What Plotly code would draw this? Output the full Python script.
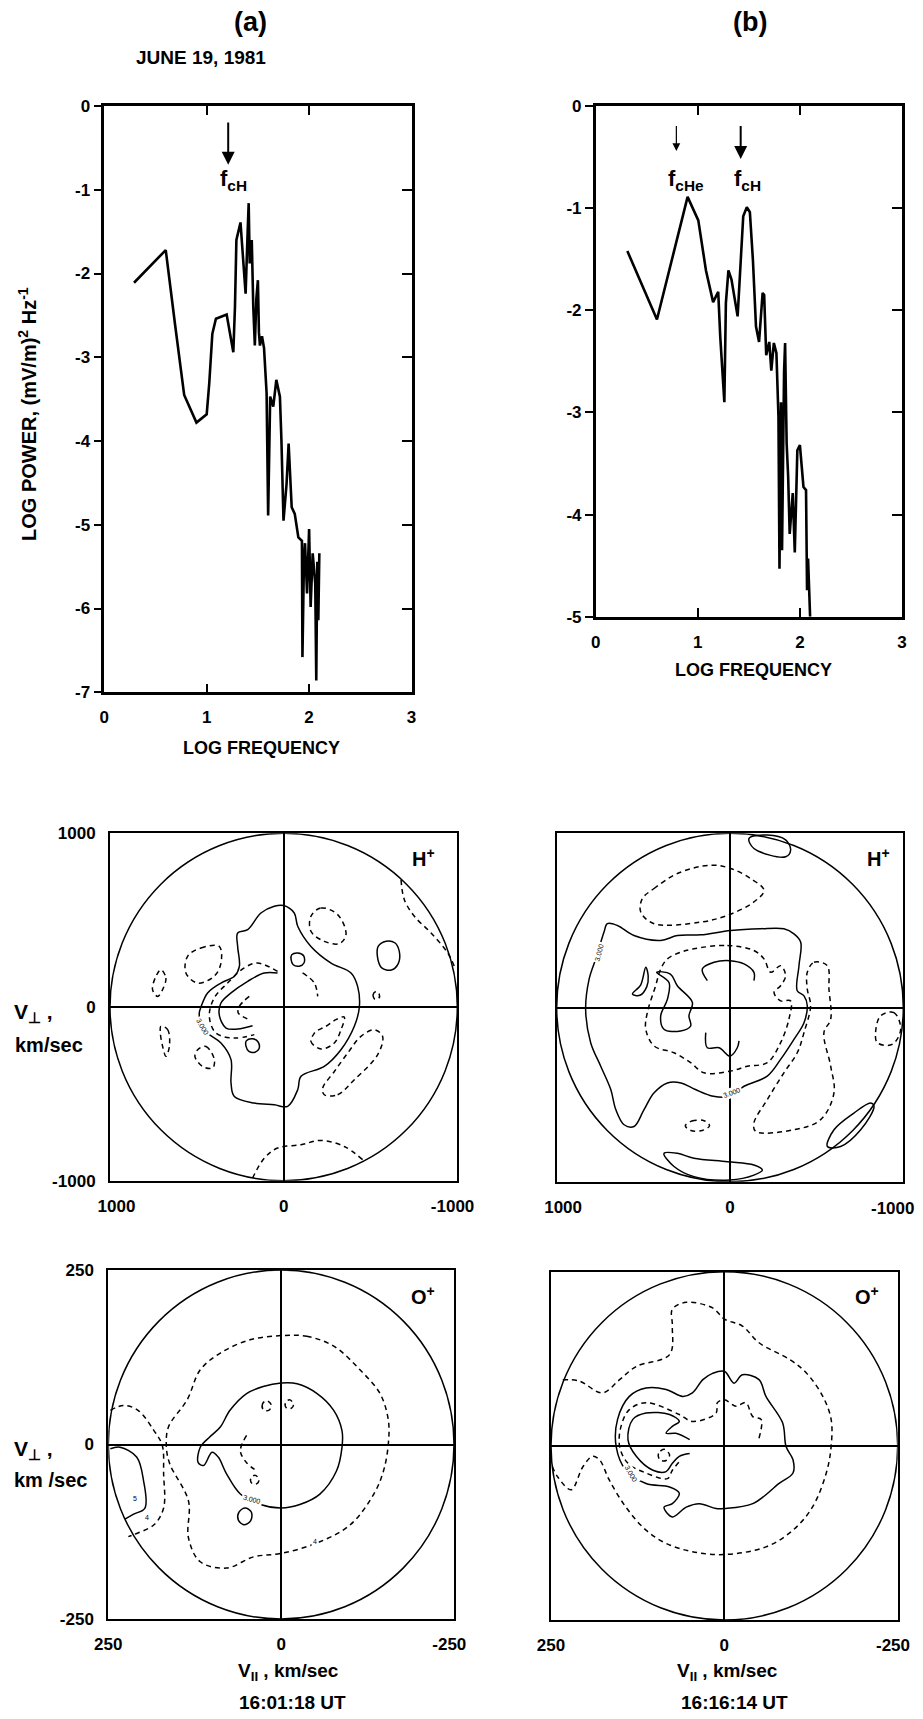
import plotly.graph_objects as go

W, H = 923, 1719
FONT = "Liberation Sans"

# ---------------- spectra data (log10 f [Hz], log10 power) ----------------
spec_a_logf = [0.29, 0.60, 0.69, 0.78, 0.90, 1.00, 1.025, 1.055, 1.09, 1.195, 1.26, 1.276, 1.29,
               1.33, 1.36, 1.38, 1.40, 1.41, 1.42, 1.44, 1.455, 1.47, 1.485, 1.50, 1.51, 1.52,
               1.54, 1.56, 1.585, 1.60, 1.62, 1.65, 1.68, 1.715, 1.73, 1.75, 1.78, 1.80, 1.83,
               1.86, 1.895, 1.93, 1.935, 1.95, 1.96, 1.98, 2.00, 2.015, 2.035, 2.06, 2.07, 2.08,
               2.09, 2.10]
spec_a_logp = [-2.11, -1.72, -2.60, -3.45, -3.78, -3.68, -3.31, -2.72, -2.54, -2.49, -2.94, -2.40,
               -1.60, -1.39, -1.90, -2.24, -1.50, -1.16, -1.88, -1.60, -2.40, -2.86, -2.30, -2.08,
               -2.70, -2.86, -2.75, -2.89, -3.43, -4.89, -3.47, -3.59, -3.27, -3.47, -4.00, -4.95,
               -4.51, -4.03, -4.79, -4.87, -5.15, -5.19, -6.58, -5.40, -5.22, -5.82, -5.05, -5.98,
               -5.34, -5.70, -6.86, -5.44, -6.14, -5.34]

spec_b_logf = [0.31, 0.60, 0.90, 1.005, 1.08, 1.15, 1.20, 1.22, 1.26, 1.275, 1.30, 1.33, 1.39,
               1.445, 1.48, 1.51, 1.54, 1.57, 1.60, 1.635, 1.65, 1.67, 1.70, 1.72, 1.745, 1.77,
               1.79, 1.80, 1.815, 1.825, 1.845, 1.855, 1.87, 1.885, 1.90, 1.93, 1.95, 1.975,
               2.00, 2.035, 2.06, 2.07, 2.08, 2.10]
spec_b_logp = [-1.42, -2.09, -0.89, -1.12, -1.61, -1.92, -1.82, -2.26, -2.90, -1.93, -1.61, -1.70,
               -2.06, -1.08, -0.99, -1.04, -1.51, -2.16, -2.31, -1.83, -1.85, -2.44, -2.31, -2.59,
               -2.32, -2.42, -3.04, -4.53, -2.90, -4.35, -2.60, -2.32, -3.30, -3.63, -4.19, -3.79,
               -4.37, -3.37, -3.32, -3.73, -3.76, -4.74, -4.43, -5.00]

fcH_a = 1.21
fcH_b = 1.42
fcHe_b = 0.79

spec_xticks = [0, 1, 2, 3]
spec_a_yticks = [0, -1, -2, -3, -4, -5, -6, -7]
spec_b_yticks = [0, -1, -2, -3, -4, -5]
h_ticks = [1000, 0, -1000]
o_ticks = [250, 0, -250]
ha_xticklabels = ["\u2007\u20091000", "0", "-1000\u2007"]
hb_xticklabels = ["\u2007\u20091000", "0", ""]
hb_last_label = "-1000"
o_xticklabels = ["250", "0", "-250\u2007"]

# ---------------- contour outlines (V_par, V_perp) in km/s ----------------
# H+ , 16:01:18 UT
HA_SOLID_MAIN = [(0, 584), (-61, 541), (-81, 465), (-157, 349), (-273, 253), (-388, 196), (-426, 119),
                 (-436, 0), (-407, -111), (-330, -246), (-234, -342), (-100, -399), (-81, -476),
                 (-23, -572), (54, -563), (169, -553), (284, -515), (303, -438), (303, -303),
                 (361, -207), (438, -150), (476, -92), (486, -35), (476, 0), (438, 81), (361, 138),
                 (284, 177), (255, 234), (265, 349), (265, 426), (207, 445), (131, 541), (54, 580)]
HA_SOLID_HOOK = [(35, 196), (111, 196), (207, 148), (303, 81), (361, 23), (371, -44), (332, -121),
                 (265, -127), (179, -108)]
HA_DASH_HOOK = [(35, 205), (150, 253), (227, 225), (323, 138), (400, 52), (428, -54), (390, -150),
                (284, -179), (169, -159)]
HA_DASH_INNER = [(198, 61), (255, 4), (261, -35), (198, -73)]
HA_DASH_SEG = [(-109, 196), (-177, 138), (-196, 61)]
HA_DASH_B1 = [(-177, -150), (-157, -198), (-215, -242), (-292, -207), (-330, -131), (-349, -58),
              (-301, -73), (-244, -111), (-186, -140)]
HA_DASH_B2 = [(-234, -505), (-311, -505), (-407, -419), (-541, -275), (-570, -169), (-522, -131),
              (-445, -169), (-369, -265), (-292, -371), (-225, -467)]
HA_DASH_B3 = [(-157, 522), (-215, 570), (-311, 532), (-359, 417), (-321, 365), (-234, 378), (-157, 436)]
HA_SOLID_C1 = [(-81, 311), (-46, 300), (-43, 273), (-55, 243), (-90, 235), (-118, 255), (-115, 295)]
HA_SOLID_C2 = [(-590, 379), (-545, 350), (-540, 290), (-565, 225), (-620, 213), (-660, 250),
               (-666, 320), (-640, 370)]
HA_DASH_C3 = [(-532, 90), (-515, 70), (-525, 45), (-548, 50), (-550, 75)]
HA_DASH_EDGE = [(-676, 733), (-695, 618), (-753, 522), (-849, 426), (-945, 311), (-983, 234)]
HA_DASH_L1 = [(553, 292), (476, 340), (371, 349), (361, 253), (400, 177), (495, 138), (563, 196)]
HA_DASH_L2 = [(707, 215), (678, 167), (697, 100), (726, 61), (755, 100), (735, 177)]
HA_DASH_L3 = [(707, -111), (668, -130), (658, -227), (678, -284), (697, -227), (710, -150)]
HA_DASH_L4 = [(495, -246), (447, -227), (399, -303), (409, -351), (467, -342), (511, -284)]
HA_SOLID_C4 = [(179, -183), (215, -195), (217, -225), (200, -255), (165, -260), (142, -240), (148, -200)]
HA_DASH_BOTTOM = [(179, -985), (111, -870), (35, -812), (-100, -793), (-215, -768), (-349, -803),
                  (-455, -879)]

# H+ , 16:16:14 UT
HB_SOLID_MAIN = [(708, 481), (650, 471), (554, 413), (400, 385), (304, 413), (169, 417), (-4, 442),
                 (-177, 452), (-311, 452), (-369, 423), (-408, 375), (-398, 240), (-388, 96),
                 (-427, 67), (-446, 10), (-427, -87), (-369, -183), (-292, -298), (-215, -394),
                 (-81, -452), (0, -510), (96, -510), (200, -471), (283, -433), (361, -433),
                 (438, -490), (496, -586), (554, -683), (611, -673), (659, -586), (688, -471),
                 (746, -337), (804, -202), (833, -10), (813, 163), (775, 279), (727, 433)]
HB_SOLID_DROP = [(563, 77), (515, 130), (486, 231), (472, 180), (480, 120), (520, 70)]
HB_SOLID_BLOB = [(423, 202), (344, 192), (304, 125), (217, 29), (237, -48), (227, -106), (285, -135),
                 (381, -125), (400, -48), (361, 48), (352, 144)]
HB_SOLID_ARC_TOP = [(131, 154), (160, 221), (92, 260), (0, 269), (-81, 250), (-138, 202), (-138, 154)]
HB_SOLID_ARC_BOT = [(140, -144), (131, -231), (63, -231), (0, -279), (-42, -231), (-52, -192)]
HB_DASH_RING = [(208, 337), (15, 356), (-138, 327), (-196, 279), (-235, 202), (-292, 240), (-321, 183),
                (-292, 125), (-254, 87), (-292, 38), (-350, 38), (-340, -67), (-292, -202),
                (-215, -317), (-100, -337), (-4, -365), (150, -375), (227, -317), (323, -260),
                (438, -221), (486, -125), (477, -29), (429, 125), (400, 221), (361, 279), (285, 317)]
HB_DASH_TOP = [(506, 625), (438, 683), (304, 769), (111, 817), (-4, 798), (-119, 740), (-196, 673),
               (-138, 606), (15, 529), (169, 490), (438, 481), (515, 548)]
HB_SOLID_TR = [(-110, 971), (-138, 913), (-321, 865), (-350, 904), (-321, 962), (-215, 990)]
HB_DASH_RIGHT = [(-446, 202), (-485, 260), (-561, 240), (-571, 106), (-581, -67), (-542, -144),
                 (-581, -337), (-600, -490), (-523, -644), (-369, -702), (-148, -711), (-138, -663),
                 (-215, -529), (-311, -375), (-388, -260), (-427, -144), (-465, 10), (-446, 106)]
HB_DASH_EDGE = [(-869, -48), (-946, -29), (-985, -125), (-936, -212), (-850, -202), (-840, -144)]
HB_SOLID_BR = [(-562, -798), (-600, -702), (-715, -606), (-812, -548), (-831, -567), (-754, -702),
               (-638, -798)]
HB_SOLID_BOT = [(381, -837), (304, -837), (208, -865), (15, -885), (-138, -904), (-187, -933),
                (-138, -962), (0, -990), (208, -971), (323, -913)]
HB_DASH_SMALL = [(258, -679), (220, -652), (150, -650), (118, -679), (160, -706), (225, -706)]

# O+ , 16:01:18 UT
OA_SOLID_MAIN = [(0, 88), (-23, 87), (-52, 73), (-76, 49), (-88, 20), (-88, -4), (-80, -38), (-56, -71),
                 (-27, -86), (0, -91), (30, -86), (59, -71), (79, -42), (91, -18), (100, -11),
                 (112, -30), (120, -26), (117, -4), (103, 11), (88, 25), (74, 49), (50, 73), (26, 83)]
OA_DASH_RING = [(0, 156), (-37, 155), (-76, 141), (-114, 107), (-143, 73), (-155, 35), (-155, 1),
                (-148, -38), (-134, -71), (-100, -115), (-52, -141), (0, -156), (40, -161),
                (79, -177), (117, -168), (134, -134), (134, -81), (161, -28), (166, -4), (163, 25),
                (136, 64), (117, 107), (88, 131), (45, 150)]
OA_DASH_LEFT = [(247, 49), (228, 56), (207, 49), (184, 20), (172, -1), (170, -42), (170, -91),
                (184, -115), (213, -129), (221, -132)]
OA_SOLID_LEFT = [(247, -6), (233, -4), (209, -18), (199, -52), (197, -91), (214, -100), (226, -107)]
OA_DASH_ARC = [(50, 13), (59, -9), (50, -26), (35, -38)]
OA_DASH_S1 = [(21, 63), (27, 58), (26, 50), (18, 49), (14, 56)]
OA_DASH_S2 = [(-12, 64), (-6, 59), (-8, 52), (-15, 52), (-18, 58)]
OA_DASH_S3 = [(38, -44), (44, -49), (42, -56), (35, -56), (32, -50)]
OA_SOLID_S4 = [(52, -91), (61, -97), (62, -108), (54, -115), (44, -109), (43, -97)]

# O+ , 16:16:14 UT
OB_SOLID_MAIN = [(0, 107), (-14, 90), (-26, 102), (-50, 95), (-60, 71), (-84, 33), (-89, -1),
                 (-99, -20), (-99, -39), (-79, -54), (-41, -83), (0, -90), (12, -90), (36, -83),
                 (55, -88), (75, -102), (87, -88), (75, -83), (65, -68), (79, -59), (113, -54),
                 (142, -35), (156, -1), (154, 38), (137, 71), (113, 83), (84, 81), (60, 71),
                 (46, 76), (31, 95), (17, 104)]
OB_DASH_INNER = [(-50, 11), (-53, 38), (-41, 42), (-31, 62), (-17, 57), (0, 66), (10, 62), (12, 47),
                 (46, 35), (65, 45), (113, 62), (137, 52), (149, 28), (151, -1), (139, -25),
                 (113, -39), (82, -47), (75, -35), (65, -23)]
OB_SOLID_INNER = [(50, 9), (70, 18), (84, 18), (75, 28), (65, 35), (79, 45), (113, 47), (132, 38),
                  (139, 9), (127, -15), (103, -35), (84, -37), (75, -25), (65, -15), (50, -11)]
OB_DASH_OUTER = [(233, 95), (209, 93), (176, 76), (151, 95), (127, 114), (79, 131), (75, 172),
                 (75, 196), (55, 206), (17, 198), (0, 182), (-26, 172), (-50, 148), (-94, 124),
                 (-118, 105), (-142, 71), (-154, 38), (-154, -1), (-147, -39), (-127, -88),
                 (-99, -121), (-60, -145), (0, -156), (46, -152), (84, -140), (113, -121),
                 (142, -88), (166, -49), (180, -20), (190, -15), (204, -30), (221, -63),
                 (240, -45), (248, -30)]
OB_DASH_S1 = [(87, -5), (95, -11), (93, -20), (84, -21), (79, -13)]

# ---------------- figure ----------------
fig = go.Figure()


def px_x(p):
    return p / W


def px_y(p):
    return 1 - p / H


def add_line(pts, xa, ya, closed, dashed, width=1.5, dash="5px,4px"):
    xs = [p[0] for p in pts]
    ys = [p[1] for p in pts]
    if closed:
        xs.append(xs[0])
        ys.append(ys[0])
    fig.add_trace(go.Scatter(
        x=xs, y=ys, mode="lines", xaxis=xa, yaxis=ya, showlegend=False, hoverinfo="skip",
        line=dict(color="black", width=width, dash=dash if dashed else "solid",
                  shape="spline", smoothing=1.0)))


# spectra
fig.add_trace(go.Scatter(x=spec_a_logf, y=spec_a_logp, mode="lines", xaxis="x", yaxis="y",
                         line=dict(color="black", width=2.6), showlegend=False))
fig.add_trace(go.Scatter(x=spec_b_logf, y=spec_b_logp, mode="lines", xaxis="x2", yaxis="y2",
                         line=dict(color="black", width=2.6), showlegend=False))
# invisible traces for the right-hand tick axes
fig.add_trace(go.Scatter(x=[0], y=[0], mode="markers", opacity=0, xaxis="x", yaxis="y7",
                         showlegend=False, hoverinfo="skip"))
fig.add_trace(go.Scatter(x=[0], y=[0], mode="markers", opacity=0, xaxis="x2", yaxis="y8",
                         showlegend=False, hoverinfo="skip"))

panels = [
    ("x3", "y3", [(HA_SOLID_MAIN, True, False), (HA_SOLID_HOOK, False, False), (HA_DASH_HOOK, False, True),
                  (HA_DASH_INNER, False, True), (HA_DASH_SEG, False, True), (HA_DASH_B1, True, True),
                  (HA_DASH_B2, True, True), (HA_DASH_B3, True, True), (HA_SOLID_C1, True, False),
                  (HA_SOLID_C2, True, False), (HA_DASH_C3, True, True), (HA_DASH_EDGE, False, True),
                  (HA_DASH_L1, True, True), (HA_DASH_L2, True, True), (HA_DASH_L3, True, True),
                  (HA_DASH_L4, True, True), (HA_SOLID_C4, True, False), (HA_DASH_BOTTOM, False, True)]),
    ("x4", "y4", [(HB_SOLID_MAIN, True, False), (HB_SOLID_DROP, True, False), (HB_SOLID_BLOB, True, False),
                  (HB_SOLID_ARC_TOP, False, False), (HB_SOLID_ARC_BOT, False, False),
                  (HB_DASH_RING, True, True), (HB_DASH_TOP, True, True), (HB_SOLID_TR, True, False),
                  (HB_DASH_RIGHT, True, True), (HB_DASH_EDGE, True, True), (HB_SOLID_BR, True, False),
                  (HB_SOLID_BOT, True, False), (HB_DASH_SMALL, True, True)]),
    ("x5", "y5", [(OA_SOLID_MAIN, True, False), (OA_DASH_RING, True, True), (OA_DASH_LEFT, False, True),
                  (OA_SOLID_LEFT, False, False), (OA_DASH_ARC, False, True), (OA_DASH_S1, True, True),
                  (OA_DASH_S2, True, True), (OA_DASH_S3, True, True), (OA_SOLID_S4, True, False)]),
    ("x6", "y6", [(OB_SOLID_MAIN, True, False), (OB_DASH_INNER, False, True), (OB_SOLID_INNER, False, False),
                  (OB_DASH_OUTER, False, True), (OB_DASH_S1, True, True)]),
]
for xa, ya, items in panels:
    for pts, closed, dashed in items:
        add_line(pts, xa, ya, closed, dashed)

tickfont = dict(family=FONT, size=17, color="black", weight="bold")

# axes for spectra
spec_x_common = dict(range=[0, 3], tickvals=spec_xticks, ticktext=[str(v) for v in spec_xticks],
                     ticks="inside", ticklen=9, tickwidth=2, tickcolor="black", mirror="ticks",
                     showline=True, linewidth=2.5, linecolor="black", showgrid=False, zeroline=False,
                     tickfont=tickfont, ticklabelstandoff=8)
layout = dict(
    width=W, height=H, margin=dict(l=0, r=0, t=0, b=0, autoexpand=False),
    paper_bgcolor="white", plot_bgcolor="white", showlegend=False,
    xaxis=dict(domain=[104.3 / W, 411.5 / W], anchor="y", **spec_x_common),
    yaxis=dict(domain=[px_y(692.3), px_y(106)], anchor="x", range=[-7, 0], tickvals=spec_a_yticks,
               ticktext=[str(v) for v in spec_a_yticks], ticks="outside", ticklen=8, tickwidth=2,
               tickcolor="black", showline=True, mirror=True, linewidth=2.5, linecolor="black",
               showgrid=False, zeroline=False, tickfont=tickfont),
    yaxis7=dict(overlaying="y", anchor="x", side="right", range=[-7, 0], tickvals=spec_a_yticks,
                ticks="inside", ticklen=10, tickwidth=2, tickcolor="black", showticklabels=False,
                showline=False, showgrid=False, zeroline=False),
    xaxis2=dict(domain=[595.7 / W, 902 / W], anchor="y2", **spec_x_common),
    yaxis2=dict(domain=[px_y(616.7), px_y(106)], anchor="x2", range=[-5, 0], tickvals=spec_b_yticks,
                ticktext=[str(v) for v in spec_b_yticks], ticks="outside", ticklen=8, tickwidth=2,
                tickcolor="black", showline=True, mirror=True, linewidth=2.5, linecolor="black",
                showgrid=False, zeroline=False, tickfont=tickfont),
    yaxis8=dict(overlaying="y2", anchor="x2", side="right", range=[-5, 0], tickvals=spec_b_yticks,
                ticks="inside", ticklen=10, tickwidth=2, tickcolor="black", showticklabels=False,
                showline=False, showgrid=False, zeroline=False),
)


def vel_axes(xdom, ydom, ticks, xlabels, n):
    xa = dict(domain=xdom, anchor="y%d" % n, range=[ticks[0], ticks[-1]], tickvals=ticks,
              ticktext=xlabels, ticks="", showline=True, mirror=True, linewidth=2,
              linecolor="black", showgrid=False, zeroline=True, zerolinewidth=2,
              zerolinecolor="black", tickfont=tickfont, ticklabelstandoff=9,
              ticklabeloverflow="allow")
    ya = dict(domain=ydom, anchor="x%d" % n, range=[ticks[-1], ticks[0]], tickvals=ticks,
              ticktext=[str(v) for v in ticks], ticks="", showline=True, mirror=True, linewidth=2,
              linecolor="black", showgrid=False, zeroline=True, zerolinewidth=2,
              zerolinecolor="black", tickfont=tickfont, ticklabelstandoff=9)
    return xa, ya


layout["xaxis3"], layout["yaxis3"] = vel_axes([110 / W, 457.3 / W], [px_y(1180.7), px_y(833.3)],
                                              h_ticks, ha_xticklabels, 3)
layout["xaxis4"], layout["yaxis4"] = vel_axes([556.7 / W, 903.3 / W], [px_y(1181.7), px_y(833.3)],
                                              h_ticks, hb_xticklabels, 4)
layout["xaxis5"], layout["yaxis5"] = vel_axes([108.3 / W, 454 / W], [px_y(1619), px_y(1270)],
                                              o_ticks, o_xticklabels, 5)
layout["xaxis6"], layout["yaxis6"] = vel_axes([551 / W, 897.7 / W], [px_y(1620), px_y(1271.7)],
                                              o_ticks, o_xticklabels, 6)
# right-hand panels carry no y tick labels
layout["yaxis4"]["showticklabels"] = False
layout["yaxis6"]["showticklabels"] = False

fig.update_layout(**layout)

# limiting circles
for n, vmax in [(3, 1000), (4, 1000), (5, 250), (6, 250)]:
    fig.add_shape(type="circle", xref="x%d" % n, yref="y%d" % n, x0=-vmax, x1=vmax, y0=-vmax, y1=vmax,
                  line=dict(color="black", width=1.5))

# ---------------- annotations ----------------
anns = []


def text(t, px, py, size, angle=0, xanchor="center"):
    anns.append(dict(text=t, x=px_x(px), y=px_y(py), xref="paper", yref="paper", showarrow=False,
                     xanchor=xanchor, yanchor="middle", textangle=angle,
                     font=dict(family=FONT, size=size, color="black", weight="bold")))


text("(a)", 250, 22, 27)
text("(b)", 750, 22, 27)
text("JUNE 19, 1981", 201, 57, 19)
text("LOG POWER, (mV/m)<sup>2</sup> Hz<sup>-1</sup>", 27, 414, 20, angle=-90)
text("LOG FREQUENCY", 261, 748, 18)
text("LOG FREQUENCY", 753, 670, 18)
text("V<sub>⊥</sub> ,", 12, 1013, 21, xanchor="left")
text("km/sec", 13, 1045, 20, xanchor="left")
text("V<sub>⊥</sub> ,", 12, 1450, 21, xanchor="left")
text("km /sec", 12, 1480, 20, xanchor="left")
text("H<sup>+</sup>", 423, 857, 20)
text("H<sup>+</sup>", 878, 857, 20)
text("O<sup>+</sup>", 423, 1295, 20)
text("O<sup>+</sup>", 867, 1295, 20)
text("V<sub>II</sub> , km/sec", 288, 1672, 19)
text("V<sub>II</sub> , km/sec", 727, 1672, 19)
text("16:01:18 UT", 292, 1702, 19)
text("16:16:14 UT", 734, 1702, 19)

# last tick label of the right H+ panel, kept inside the page
anns.append(dict(x=h_ticks[-1], y=h_ticks[-1], xref="x4", yref="y4", text=hb_last_label, showarrow=False,
                 xanchor="right", yanchor="middle", xshift=13, yshift=-27, font=tickfont))

# cyclotron frequency markers
for xr, yr, fx, tip, tail, width in [("x", "y", fcH_a, -0.70, -0.18, 2),
                                     ("x2", "y2", fcH_b, -0.52, -0.18, 2),
                                     ("x2", "y2", fcHe_b, -0.44, -0.18, 1.2)]:
    anns.append(dict(x=fx, y=tip, ax=fx, ay=tail, xref=xr, yref=yr, axref=xr, ayref=yr, text="",
                     showarrow=True, arrowhead=2, arrowsize=1.3, arrowwidth=width, arrowcolor="black"))
lab = dict(family=FONT, size=22, color="black", weight="bold")
anns.append(dict(x=fcH_a + 0.05, y=-0.88, xref="x", yref="y", text="f<sub>cH</sub>", showarrow=False, font=lab))
anns.append(dict(x=fcH_b + 0.07, y=-0.72, xref="x2", yref="y2", text="f<sub>cH</sub>", showarrow=False, font=lab))
anns.append(dict(x=fcHe_b + 0.09, y=-0.72, xref="x2", yref="y2", text="f<sub>cHe</sub>", showarrow=False, font=lab))

# small contour level labels
small = dict(family=FONT, size=7, color="black")
for xr, yr, x, y, t, ang in [("x4", "y4", 756, 317, "3.000", -75), ("x4", "y4", -13, -490, "3.000", -20),
                             ("x3", "y3", 467, -111, "3.000", 60),
                             ("x5", "y5", 42, -79, "3.000", 15), ("x5", "y5", 211, -78, "5", 0),
                             ("x5", "y5", 194, -105, "4", 0), ("x5", "y5", -49, -139, "4", 0),
                             ("x6", "y6", 135, -40, "3.000", 60)]:
    anns.append(dict(x=x, y=y, xref=xr, yref=yr, text=t, showarrow=False, textangle=ang, font=small,
                     bgcolor="white"))

fig.update_layout(annotations=anns)
fig.write_html("out.html")
